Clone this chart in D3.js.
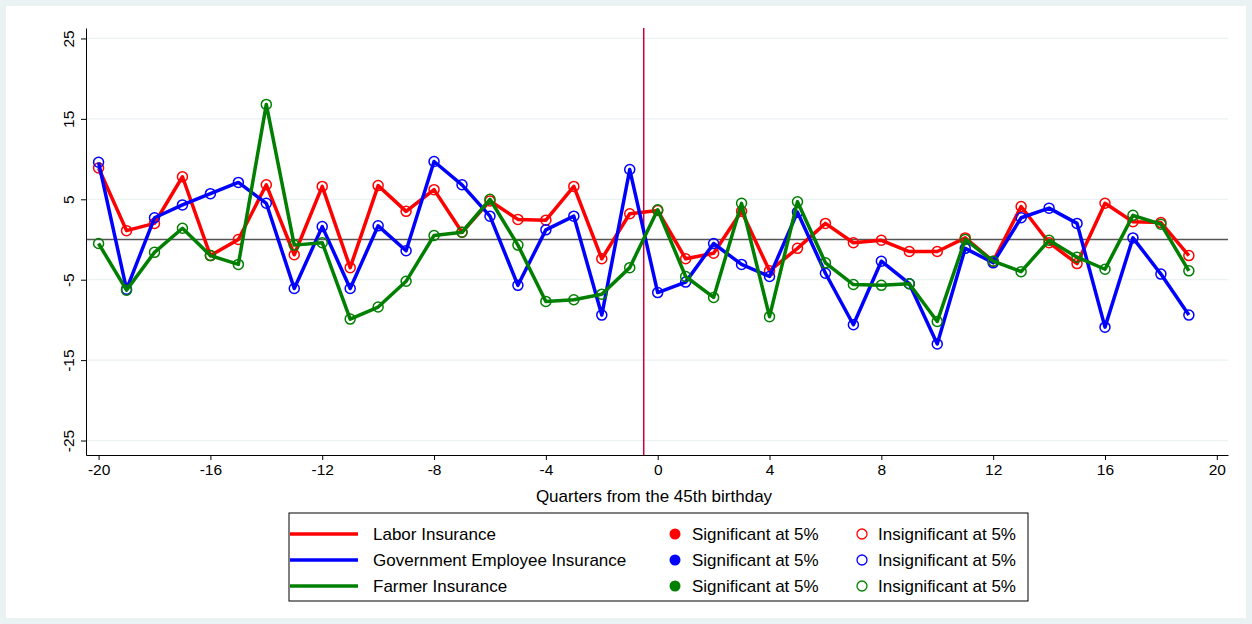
<!DOCTYPE html>
<html><head><meta charset="utf-8">
<script src="https://cdn.jsdelivr.net/npm/d3@7"></script>
<style>body{margin:0;background:#fff;font-family:Arial,"Liberation Sans",sans-serif}</style>
</head><body><svg id="chart" width="1252" height="624"></svg>
<script>
const quarters = d3.range(-20, 20);
const labor = [8.9,1.1,2.0,7.8,-2.0,0,6.8,-1.9,6.6,-3.5,6.7,3.5,6.2,0.9,4.8,2.5,2.4,6.6,-2.4,3.2,3.6,-2.4,-1.7,3.5,-3.9,-1.1,2.0,-0.4,-0.1,-1.5,-1.5,0.2,-2.7,4.1,-0.4,-3.0,4.5,2.2,2.1,-2.0];
const govt = [9.6,-6.2,2.7,4.3,5.7,7.1,4.5,-6.1,1.6,-6.1,1.7,-1.4,9.7,6.8,2.9,-5.7,1.2,2.9,-9.4,8.7,-6.6,-5.3,-0.5,-3.1,-4.6,3.4,-4.2,-10.6,-2.7,-5.5,-13,-1.1,-2.9,2.7,3.9,2.0,-10.9,0.2,-4.3,-9.4];
const farmer = [-0.5,-6.3,-1.6,1.4,-2.0,-3.1,16.8,-0.7,-0.4,-9.9,-8.4,-5.2,0.5,0.9,5.0,-0.7,-7.7,-7.5,-6.8,-3.5,3.7,-4.6,-7.2,4.5,-9.6,4.7,-2.9,-5.6,-5.7,-5.5,-10.2,0,-2.7,-4.0,-0.1,-2.2,-3.7,3.0,1.9,-3.9];
const seriesNames = ["Labor Insurance","Government Employee Insurance","Farmer Insurance"];
const colors = ["#ff0000","#0000ff","#007f00"];
const xTicks = [-20,-16,-12,-8,-4,0,4,8,12,16,20];
const yTicks = [-25,-15,-5,5,15,25];

const svg = d3.select("#chart");
svg.append("rect").attr("width",1252).attr("height",624).attr("fill","#eaf2f3");
svg.append("rect").attr("x",6).attr("y",6).attr("width",1240).attr("height",612).attr("fill","#fff");
const L=86,R=1228,T=28,B=455;
const x = d3.scaleLinear().domain([-20.45,20.4]).range([L,R]);
const y = d3.scaleLinear().domain([-26.8,26.3]).range([B,T]);

const g = svg.append("g");
g.selectAll(".grid").data(yTicks).join("line").attr("x1",L).attr("x2",R)
  .attr("y1",d=>y(d)).attr("y2",d=>y(d)).attr("stroke","#eaf2f3").attr("stroke-width",1.2);
g.append("line").attr("x1",L).attr("x2",R).attr("y1",y(0)).attr("y2",y(0)).attr("stroke","#555").attr("stroke-width",1.5);
g.append("line").attr("x1",x(-0.5)).attr("x2",x(-0.5)).attr("y1",T).attr("y2",B).attr("stroke","#c8003c").attr("stroke-width",1.5);

const fmt = d=>String(d);
const xAxis = g.append("g").attr("transform",`translate(0,${B})`).call(d3.axisBottom(x).tickValues(xTicks).tickFormat(fmt).tickSize(5).tickSizeOuter(0));
const yAxis = g.append("g").attr("transform",`translate(${L},0)`).call(d3.axisLeft(y).tickValues(yTicks).tickFormat(fmt).tickSize(5).tickSizeOuter(0));
[xAxis,yAxis].forEach(a=>{a.selectAll("text").attr("font-size",15.5).attr("fill","#000").attr("font-family","Arial,Liberation Sans");a.select(".domain").attr("stroke","#000");});
xAxis.selectAll(".tick text").attr("y",9);
yAxis.selectAll(".tick text").attr("transform","rotate(-90)").attr("x",0).attr("y",-12).attr("dy","0").attr("text-anchor","middle");
svg.append("text").attr("x",(L+R)/2-3).attr("y",502).attr("text-anchor","middle").attr("font-size",17).text("Quarters from the 45th birthday");

[labor,govt,farmer].forEach((vals,i)=>{
  const pts = quarters.map((q,j)=>[q,vals[j]]);
  g.append("path").datum(pts).attr("fill","none").attr("stroke",colors[i]).attr("stroke-width",3.5)
    .attr("stroke-linejoin","round").attr("d",d3.line().x(d=>x(d[0])).y(d=>y(d[1])));
  g.selectAll(null).data(pts).join("circle").attr("cx",d=>x(d[0])).attr("cy",d=>y(d[1])).attr("r",5)
    .attr("fill","none").attr("stroke",colors[i]).attr("stroke-width",1.5);
});

const lg = svg.append("g");
lg.append("rect").attr("x",289).attr("y",513).attr("width",739).attr("height",88).attr("fill","#fff").attr("stroke","#000");
seriesNames.forEach((n,i)=>{
  const yy=534+i*26;
  lg.append("line").attr("x1",290).attr("x2",358).attr("y1",yy).attr("y2",yy).attr("stroke",colors[i]).attr("stroke-width",3.5);
  lg.append("text").attr("x",373).attr("y",yy+6).attr("font-size",17).text(n);
  lg.append("circle").attr("cx",675).attr("cy",yy).attr("r",5.5).attr("fill",colors[i]);
  lg.append("text").attr("x",692).attr("y",yy+6).attr("font-size",17).text("Significant at 5%");
  lg.append("circle").attr("cx",862).attr("cy",yy).attr("r",5).attr("fill","none").attr("stroke",colors[i]).attr("stroke-width",1.3);
  lg.append("text").attr("x",878).attr("y",yy+6).attr("font-size",17).text("Insignificant at 5%");
});
</script></body></html>
